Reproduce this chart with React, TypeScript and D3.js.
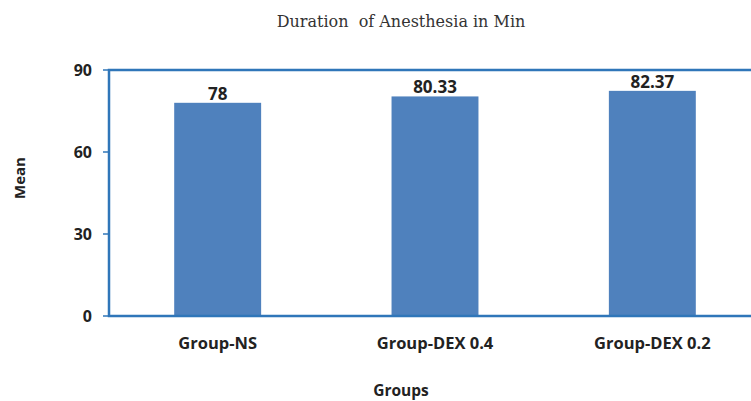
import React from "react";
import * as d3 from "d3";

const groups = ["Group-NS", "Group-DEX 0.4", "Group-DEX 0.2"];
const means = [78, 80.33, 82.37];
const meanLabels = ["78", "80.33", "82.37"];
const yTicks = [0, 30, 60, 90];

const W = 751;
const H = 401;
const left = 109;
const right = 761;
const top = 70;
const bottom = 316;

export default function App() {
  const x = d3.scaleBand().domain(groups).range([left, right]).paddingInner(0.6).paddingOuter(0.3);
  const y = d3.scaleLinear().domain([0, 90]).range([bottom, top]);
  const axisColor = "#2f76b9";
  const font = "'Open Sans', sans-serif";

  return (
    <svg width={W} height={H} style={{ position: "absolute", left: 0, top: 0, background: "#fff" }}>
      <text x={401} y={27} textAnchor="middle" fontFamily="'DejaVu Serif', serif" fontSize={16} fill="#333" style={{ whiteSpace: "pre" }}>
        {"Duration  of Anesthesia in Min"}
      </text>

      {/* bars */}
      {groups.map((g, i) => (
        <g key={g}>
          <rect x={x(g)} y={y(means[i])} width={x.bandwidth()} height={bottom - y(means[i])} fill="#4f81bd" />
          <text x={x(g)! + x.bandwidth() / 2} y={y(means[i]) - 3} textAnchor="middle" fontFamily={font} fontWeight="bold" fontSize={17} fill="#222">
            {meanLabels[i]}
          </text>
          <text x={x(g)! + x.bandwidth() / 2} y={349} textAnchor="middle" fontFamily={font} fontWeight="bold" fontSize={16.5} fill="#222">
            {g}
          </text>
        </g>
      ))}

      {/* frame */}
      <rect x={left} y={top} width={right - left} height={bottom - top} fill="none" stroke={axisColor} strokeWidth={2.5} />

      {/* y axis ticks */}
      {yTicks.map((t) => (
        <g key={t}>
          <line x1={left - 6} x2={left} y1={y(t)} y2={y(t)} stroke={axisColor} strokeWidth={1.5} />
          <text x={92} y={y(t)} dy="0.35em" textAnchor="end" fontFamily={font} fontWeight="bold" fontSize={16} fill="#222">
            {t}
          </text>
        </g>
      ))}

      <text transform="translate(25,178) rotate(-90)" textAnchor="middle" fontFamily={font} fontWeight="bold" fontSize={15} fill="#222">
        Mean
      </text>
      <text x={401} y={396} textAnchor="middle" fontFamily={font} fontWeight="bold" fontSize={15.5} fill="#222">
        Groups
      </text>
    </svg>
  );
}
